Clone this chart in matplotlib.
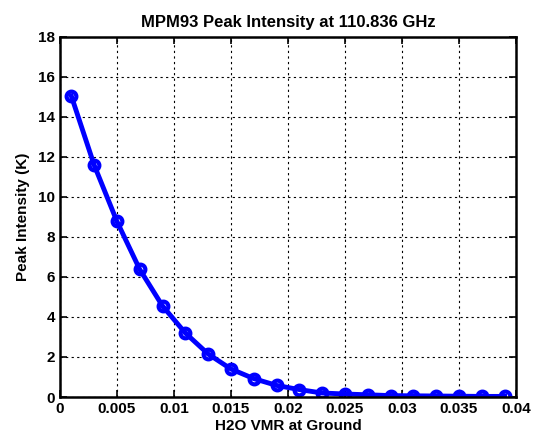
import matplotlib
matplotlib.use('Agg')
import matplotlib.pyplot as plt

# peak intensity versus ground-level water vapour mixing ratio
h2o_vmr = [0.001, 0.003, 0.005, 0.007, 0.009, 0.011, 0.013, 0.015, 0.017, 0.019,
           0.021, 0.023, 0.025, 0.027, 0.029, 0.031, 0.033, 0.035, 0.037, 0.039]
peak_k = [15.05, 11.6, 8.78, 6.38, 4.55, 3.2, 2.15, 1.4, 0.92, 0.58,
          0.37, 0.2, 0.15, 0.11, 0.07, 0.06, 0.05, 0.04, 0.03, 0.03]

x_ticks = [0, 0.005, 0.01, 0.015, 0.02, 0.025, 0.03, 0.035, 0.04]
x_labels = ['0', '0.005', '0.01', '0.015', '0.02', '0.025', '0.03', '0.035', '0.04']
y_ticks = list(range(0, 19, 2))

plt.rcParams['font.family'] = 'Liberation Sans'
plt.rcParams['font.weight'] = 'bold'

fig = plt.figure(figsize=(5.35, 4.38), dpi=100)
ax = fig.add_axes([0.112, 0.0936, 0.8525, 0.822])

ax.plot(h2o_vmr, peak_k, color='#0000ff', linewidth=3.5, marker='o',
        markersize=7, markerfacecolor='none', markeredgewidth=3)

ax.set_xlim(0, 0.04)
ax.set_ylim(0, 18)
ax.set_xticks(x_ticks)
ax.set_xticklabels(x_labels)
ax.set_yticks(y_ticks)
ax.grid(True, color='black', linestyle=(0, (2, 3)), linewidth=0.8)
ax.tick_params(direction='in', top=True, right=True, labelsize=11, length=5, width=1.2)
for spine in ax.spines.values():
    spine.set_linewidth(1.8)

ax.set_title('MPM93 Peak Intensity at 110.836 GHz', fontsize=12, fontweight='bold', pad=7)
ax.set_xlabel('H2O VMR at Ground', fontsize=11, fontweight='bold', labelpad=2)
ax.set_ylabel('Peak Intensity (K)', fontsize=11, fontweight='bold', labelpad=6)

fig.savefig('out.png', dpi=100)
